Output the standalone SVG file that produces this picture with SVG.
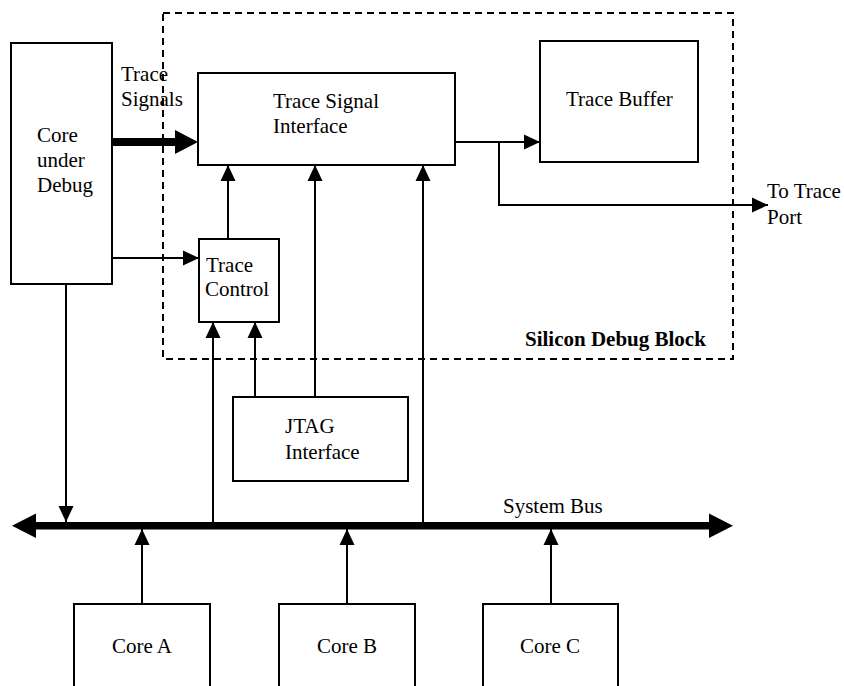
<svg xmlns="http://www.w3.org/2000/svg" width="844" height="686" viewBox="0 0 844 686">
  <style>
    .box { fill: #fff; stroke: #000; stroke-width: 2; }
    .wire { fill: none; stroke: #000; stroke-width: 2; }
    .lbl { font-family: "Liberation Serif", "Times New Roman", serif; font-size: 21px; fill: #000; }
    .bold { font-weight: bold; }
    .mid { text-anchor: middle; }
  </style>
  <defs>
    <marker id="arrow" markerUnits="userSpaceOnUse" markerWidth="16" markerHeight="16" viewBox="0 0 16 16" refX="16" refY="8" orient="auto">
      <path d="M0,0.5 L16,8 L0,15.5 Z" fill="#000"/>
    </marker>
  </defs>
  <rect width="844" height="686" fill="#fff"/>

  <!-- Silicon debug block boundary -->
  <g id="silicon-debug-block">
    <rect x="163" y="13" width="570" height="346" fill="none" stroke="#000" stroke-width="2" stroke-dasharray="7 5"/>
    <text class="lbl bold" x="525" y="346">Silicon Debug Block</text>
  </g>

  <g id="core-under-debug">
    <rect class="box" x="11" y="43" width="101" height="241"/>
    <text class="lbl" x="37" y="142">Core</text>
    <text class="lbl" x="37" y="167">under</text>
    <text class="lbl" x="37" y="192">Debug</text>
  </g>

  <g id="trace-signal-interface">
    <rect class="box" x="198" y="73" width="257" height="92"/>
    <text class="lbl" x="273" y="108">Trace Signal</text>
    <text class="lbl" x="273" y="133">Interface</text>
  </g>

  <g id="trace-buffer">
    <rect class="box" x="540" y="41" width="158" height="121"/>
    <text class="lbl" x="566" y="106">Trace Buffer</text>
  </g>

  <g id="trace-control">
    <rect class="box" x="199" y="239" width="80" height="83"/>
    <text class="lbl" x="206" y="272">Trace</text>
    <text class="lbl" x="205" y="296">Control</text>
  </g>

  <g id="jtag-interface">
    <rect class="box" x="233" y="397" width="175" height="84"/>
    <text class="lbl" x="285" y="433">JTAG</text>
    <text class="lbl" x="285" y="459">Interface</text>
  </g>

  <g id="core-a">
    <rect class="box" x="74" y="604" width="136" height="110"/>
    <text class="lbl mid" x="142" y="653">Core A</text>
  </g>
  <g id="core-b">
    <rect class="box" x="279" y="604" width="136" height="110"/>
    <text class="lbl mid" x="347" y="653">Core B</text>
  </g>
  <g id="core-c">
    <rect class="box" x="483" y="604" width="135" height="110"/>
    <text class="lbl mid" x="550" y="653">Core C</text>
  </g>

  <!-- connectors -->
  <g id="connectors">
    <!-- trace signals (wide arrow) -->
    <rect x="112" y="138" width="64" height="8" fill="#000"/>
    <path d="M175,130 L198,142 L175,154 Z" fill="#000"/>
    <text class="lbl" x="121" y="81">Trace</text>
    <text class="lbl" x="121" y="106">Signals</text>

    <!-- core under debug to trace control -->
    <line class="wire" x1="112" y1="258" x2="199" y2="258" marker-end="url(#arrow)"/>
    <!-- trace control to trace signal interface -->
    <line class="wire" x1="228" y1="239" x2="228" y2="165" marker-end="url(#arrow)"/>
    <!-- JTAG to trace signal interface -->
    <line class="wire" x1="315" y1="397" x2="315" y2="165" marker-end="url(#arrow)"/>
    <!-- system bus to trace signal interface -->
    <line class="wire" x1="423" y1="522" x2="423" y2="165" marker-end="url(#arrow)"/>
    <!-- system bus to trace control -->
    <line class="wire" x1="213" y1="522" x2="213" y2="322" marker-end="url(#arrow)"/>
    <!-- JTAG to trace control -->
    <line class="wire" x1="255" y1="397" x2="255" y2="322" marker-end="url(#arrow)"/>
    <!-- trace signal interface to trace buffer -->
    <line class="wire" x1="455" y1="142" x2="540" y2="142" marker-end="url(#arrow)"/>
    <!-- branch to trace port -->
    <polyline class="wire" points="499,142 499,205 768,205" marker-end="url(#arrow)"/>
    <text class="lbl" x="767" y="198">To Trace</text>
    <text class="lbl" x="767" y="224">Port</text>

    <!-- core under debug to system bus -->
    <line class="wire" x1="66" y1="284" x2="66" y2="522" marker-end="url(#arrow)"/>
    <!-- cores to system bus -->
    <line class="wire" x1="142" y1="604" x2="142" y2="529" marker-end="url(#arrow)"/>
    <line class="wire" x1="347" y1="604" x2="347" y2="529" marker-end="url(#arrow)"/>
    <line class="wire" x1="551" y1="604" x2="551" y2="529" marker-end="url(#arrow)"/>

    <!-- system bus (double-headed wide arrow) -->
    <rect x="34" y="522" width="676" height="7.5" fill="#000"/>
    <path d="M36,513.5 L12,525.75 L36,538 Z" fill="#000"/>
    <path d="M709,513.5 L733,525.75 L709,538 Z" fill="#000"/>
    <text class="lbl" x="503" y="513">System Bus</text>
  </g>
</svg>
